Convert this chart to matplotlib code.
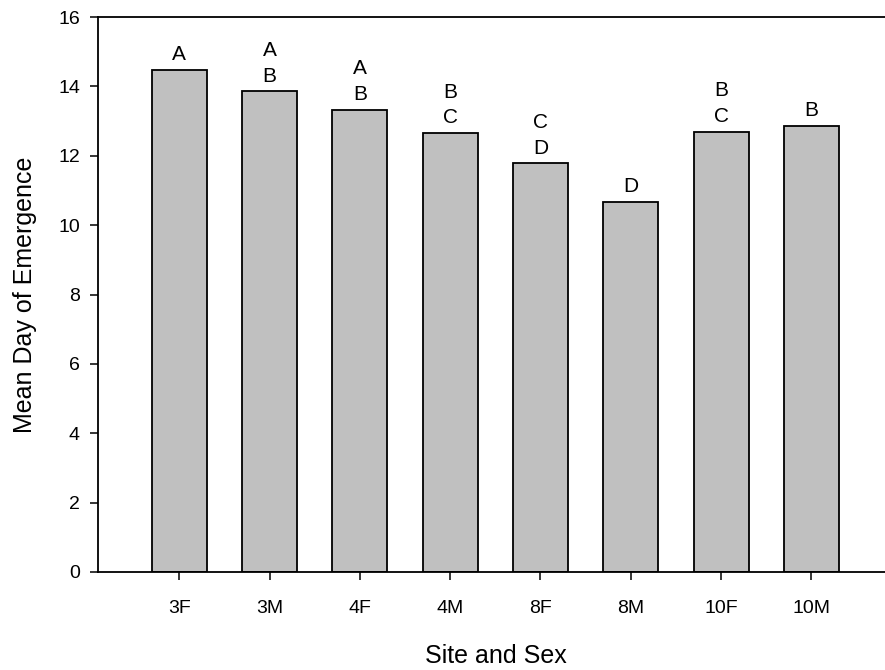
import matplotlib
matplotlib.use("Agg")
import matplotlib.pyplot as plt
import numpy as np

categories = ["3F", "3M", "4F", "4M", "8F", "8M", "10F", "10M"]
means = [14.47, 13.86, 13.32, 12.65, 11.78, 10.67, 12.69, 12.87]
groups = [["A"], ["A", "B"], ["A", "B"], ["B", "C"], ["C", "D"], ["D"], ["B", "C"], ["B"]]
y_ticks = [0, 2, 4, 6, 8, 10, 12, 14, 16]

plt.rcParams['font.family'] = ['Liberation Sans', 'DejaVu Sans']

fig = plt.figure(figsize=(8.85, 6.7), dpi=100)
ax = fig.add_axes([98/885, 1 - 572/670, (885 - 98)/885, (572 - 17)/670])

x = np.arange(len(categories))
ax.bar(x, means, width=0.61, color="#c0c0c0", edgecolor="black", linewidth=1.3, zorder=2)

for xi, m, g in zip(x, means, groups):
    n = len(g)
    for k, letter in enumerate(g):
        off = 7 + (n - 1 - k) * 18.7
        ax.annotate(letter, (xi, m), xytext=(0, off), textcoords="offset points",
                    ha="center", va="baseline", fontsize=15)

ax.set_xlim(-0.9, 7.815)
ax.set_ylim(0, 16)
ax.set_yticks(y_ticks)
ax.set_xticks(x)
ax.set_xticklabels(categories)

ax.spines['right'].set_visible(False)
for s in ['left', 'top', 'bottom']:
    ax.spines[s].set_linewidth(1.3)

ax.tick_params(axis='x', direction='out', length=6, width=1.1, labelsize=14, pad=14)
ax.tick_params(axis='y', direction='out', length=6, width=1.1, labelsize=14, pad=7)

ax.set_xlabel("Site and Sex", fontsize=18)
ax.set_ylabel("Mean Day of Emergence", fontsize=18)
ax.xaxis.set_label_coords(0.506, -0.13)
ax.yaxis.set_label_coords(-0.078, 0.5)

fig.savefig("out.png", dpi=100)
